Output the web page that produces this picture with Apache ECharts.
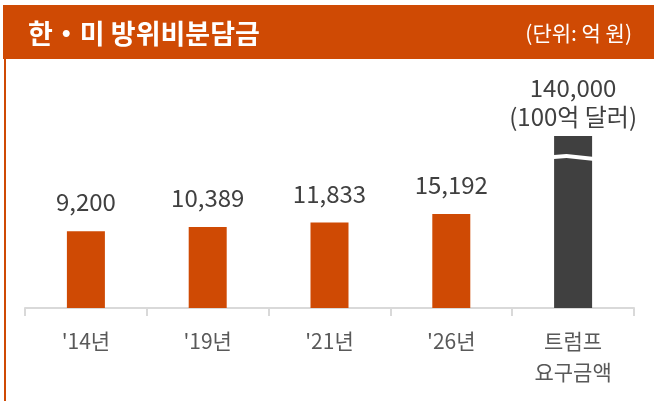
<!DOCTYPE html>
<html>
<head>
<meta charset="utf-8">
<script src="https://cdn.jsdelivr.net/npm/echarts@6/dist/echarts.min.js"></script>
<style>
  html, body { margin: 0; padding: 0; background: #fff; }
  #chart { width: 654px; height: 401px; }
</style>
</head>
<body>
<div id="chart"></div>
<script>
// 연도별 분담금 (단위: 억 원)
const categories = ["'14년", "'19년", "'21년", "'26년", "트럼프\n요구금액"];
const values = [9200, 10389, 11833, 15192, 140000];
// 마지막 막대 보조 표기
const extraNote = ['', '', '', '', '(100억 달러)'];

const orange = '#CF4A04';
const dark = '#404040';
const font = '"Noto Sans CJK KR", "Noto Sans", sans-serif';

const chart = echarts.init(document.getElementById('chart'));

const option = {
    animation: false,
    backgroundColor: '#fff',
    textStyle: { fontFamily: font },
    graphic: [
        // 상단 헤더 바
        { type: 'rect', left: 3, top: 5, shape: { width: 651, height: 54 }, style: { fill: orange }, z: 0 },
        // 왼쪽 테두리
        { type: 'rect', left: 4, top: 59, shape: { width: 2, height: 342 }, style: { fill: orange }, z: 0 }
    ],
    title: [
        {
            text: '한・미 방위비분담금',
            left: 23, top: 15,
            textStyle: { color: '#fff', fontSize: 27, fontWeight: 'bold', fontFamily: font }
        },
        {
            text: '(단위: 억 원)',
            right: 17, top: 18,
            textStyle: { color: '#fff', fontSize: 21, fontWeight: 'normal', fontFamily: font }
        }
    ],
    grid: { left: 25, right: 20, top: 136, bottom: 93 },
    xAxis: {
        type: 'category',
        data: categories,
        axisLine: { show: true, onZero: false, lineStyle: { color: '#d9d9d9', width: 2 } },
        axisTick: { show: true, length: 8, lineStyle: { color: '#d9d9d9', width: 2 } },
        axisLabel: {
            color: '#595959', fontSize: 21, margin: 18, lineHeight: 31,
            fontFamily: font, interval: 0
        }
    },
    yAxis: {
        type: 'log',
        logBase: 10,
        min: 1000,
        max: 140000,
        axisLine: { show: false },
        axisTick: { show: false },
        axisLabel: { show: false },
        splitLine: { show: false },
        // 축 생략 표시
        breaks: [{ start: 75000, end: 80000, gap: '2%' }],
        breakArea: {
            show: true,
            expandOnClick: false,
            zigzagAmplitude: 1.5,
            zigzagMinSpan: 20,
            zigzagMaxSpan: 40,
            itemStyle: { color: '#fff', borderColor: '#fff', borderWidth: 0, opacity: 1 }
        }
    },
    series: [{
        type: 'bar',
        barWidth: 38,
        data: values.map((v, i) => ({
            value: v,
            itemStyle: { color: i === values.length - 1 ? dark : orange },
            label: i === values.length - 1 ? { distance: 5, lineHeight: 29 } : {}
        })),
        label: {
            show: true,
            position: 'top',
            distance: 17,
            color: '#404040',
            fontSize: 24,
            fontFamily: font,
            formatter: p => {
                const s = p.value.toLocaleString('en-US');
                return extraNote[p.dataIndex] ? s + '\n' + extraNote[p.dataIndex] : s;
            }
        }
    }]
};

chart.setOption(option);
window.addEventListener('resize', () => chart.resize());
</script>
</body>
</html>
